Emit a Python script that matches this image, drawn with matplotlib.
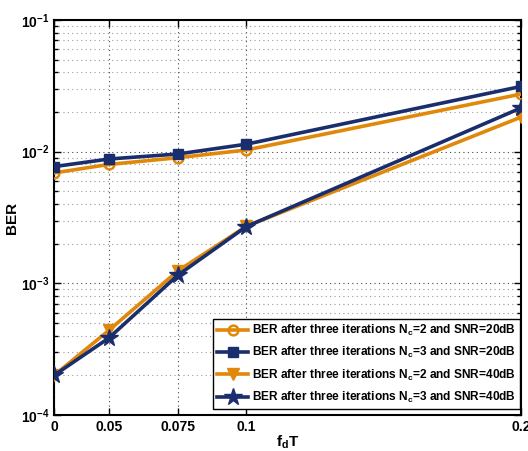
import matplotlib
matplotlib.use("Agg")
import matplotlib.pyplot as plt
from matplotlib.ticker import LogLocator, FixedLocator, NullFormatter

plt.rcParams['font.family'] = ['Liberation Sans', 'DejaVu Sans']
plt.rcParams['font.weight'] = 'bold'
plt.rcParams['mathtext.fontset'] = 'custom'
plt.rcParams['mathtext.rm'] = 'Liberation Sans:bold'
plt.rcParams['mathtext.bf'] = 'Liberation Sans:bold'
plt.rcParams['mathtext.it'] = 'Liberation Sans:bold'

# data
x_pos = [0.03, 0.05, 0.075, 0.1, 0.2]
x_ticklabels = ['0', '0.05', '0.075', '0.1', '0.2']
ber_nc2_20 = [6.9e-3, 8.0e-3, 9.0e-3, 1.03e-2, 2.74e-2]
ber_nc3_20 = [7.7e-3, 8.8e-3, 9.6e-3, 1.14e-2, 3.13e-2]
ber_nc2_40 = [2.0e-4, 4.4e-4, 1.24e-3, 2.71e-3, 1.83e-2]
ber_nc3_40 = [2.0e-4, 3.85e-4, 1.15e-3, 2.70e-3, 2.15e-2]
labels = [
    r'BER after three iterations N$_\mathbf{c}$=2 and SNR=20dB',
    r'BER after three iterations N$_\mathbf{c}$=3 and SNR=20dB',
    r'BER after three iterations N$_\mathbf{c}$=2 and SNR=40dB',
    r'BER after three iterations N$_\mathbf{c}$=3 and SNR=40dB',
]

orange = '#E0880A'
navy = '#1A2E6E'

fig = plt.figure(figsize=(5.28, 4.51), dpi=100)
ax = fig.add_axes([0.1023, 0.0798, 0.8845, 0.8758])

lw = 2.6
ax.plot(x_pos, ber_nc2_20, color=orange, lw=lw, marker='o', ms=7,
        mfc='none', mec=orange, mew=1.8, label=labels[0], zorder=3)
ax.plot(x_pos, ber_nc3_20, color=navy, lw=lw, marker='s', ms=6.5,
        mfc=navy, mec=navy, label=labels[1], zorder=3)
ax.plot(x_pos, ber_nc2_40, color=orange, lw=lw, marker='v', ms=9,
        mfc=orange, mec=orange, label=labels[2], zorder=3)
ax.plot(x_pos, ber_nc3_40, color=navy, lw=lw, marker='*', ms=13,
        mfc=navy, mec=navy, label=labels[3], zorder=4)

ax.set_yscale('log')
ax.set_ylim(1e-4, 1e-1)
ax.set_xlim(x_pos[0], x_pos[-1])
ax.xaxis.set_major_locator(FixedLocator(x_pos))
ax.set_xticklabels(x_ticklabels)
ax.yaxis.set_major_locator(LogLocator(base=10, numticks=10))
ax.yaxis.set_minor_locator(LogLocator(base=10, subs=range(2, 10), numticks=20))
ax.yaxis.set_minor_formatter(NullFormatter())

ax.grid(True, which='major', linestyle=(0, (1, 3)), color='#444444', lw=0.8)
ax.grid(True, which='minor', axis='y', linestyle=(0, (1, 3)), color='#999999', lw=0.8)

ax.tick_params(which='both', direction='in', top=True, right=True,
               labelsize=10, width=1.0)
ax.tick_params(which='major', length=5)
ax.tick_params(which='minor', length=3)
for s in ax.spines.values():
    s.set_linewidth(1.5)
for t in ax.get_xticklabels() + ax.get_yticklabels():
    t.set_fontweight('bold')

ax.set_xlabel(r'f$_\mathbf{d}$T', fontsize=11, fontweight='bold', labelpad=0)
ax.set_ylabel('BER', fontsize=11, fontweight='bold', labelpad=1)

leg = ax.legend(loc='lower right', bbox_to_anchor=(0.998, 0.015),
                borderaxespad=0, fancybox=False, framealpha=1,
                edgecolor='black', handlelength=2.6,
                labelspacing=0.6, borderpad=0.35, handletextpad=0.3,
                prop={'weight': 'bold', 'size': 8.6})
leg.get_frame().set_linewidth(1.0)

fig.savefig('out.png', dpi=100)
